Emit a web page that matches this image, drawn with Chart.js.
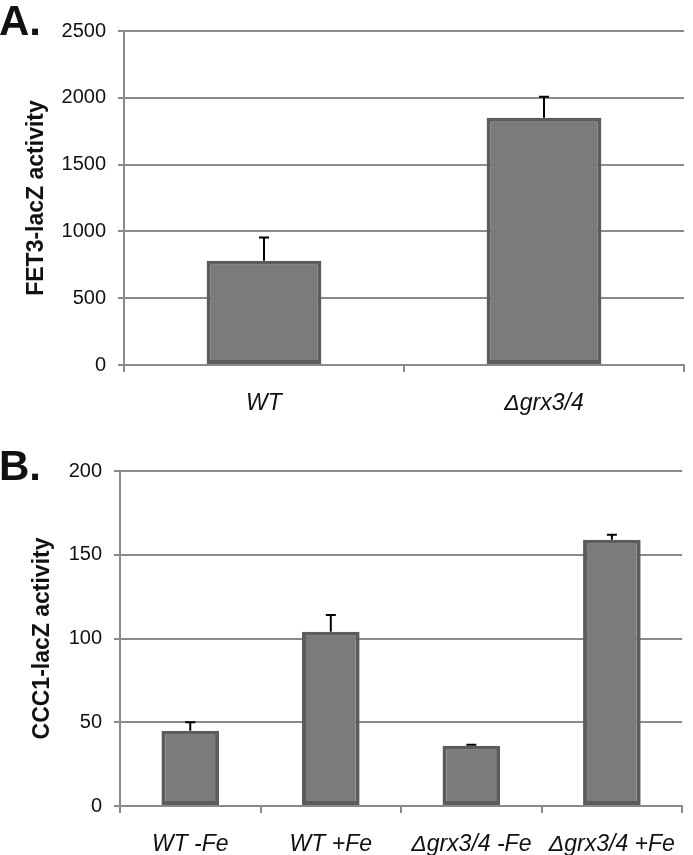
<!DOCTYPE html>
<html>
<head>
<meta charset="utf-8">
<script src="https://cdn.jsdelivr.net/npm/chart.js@4"></script>
<style>
  body { margin: 0; background: #fff; }
  .panel { position: absolute; left: 0; }
  .letter {
    position: absolute; left: -1px;
    font: bold 42px 'Liberation Sans', Arial, sans-serif;
    line-height: 40px; color: #111;
  }
</style>
</head>
<body>
<div class="panel" style="top:0"><canvas id="chartA" width="693" height="430"></canvas></div>
<div class="panel" style="top:430px"><canvas id="chartB" width="693" height="425"></canvas></div>
<div class="letter" style="top:1px">A.</div>
<div class="letter" style="top:446px">B.</div>
<script>
// ---- data: panel A ----
const fetCategories = ['WT', '\u0394grx3/4'];
const fetValues = [780, 1850];
const fetErrors = [175, 157];
const fetTicks = [0, 500, 1000, 1500, 2000, 2500];

// ---- data: panel B ----
const cccCategories = ['WT -Fe', 'WT +Fe', '\u0394grx3/4 -Fe', '\u0394grx3/4 +Fe'];
const cccValues = [45, 104, 36, 159];
const cccErrors = [5, 10, 0.5, 3];
const cccTicks = [0, 50, 100, 150, 200];

const FONT = "'Liberation Sans', Arial, sans-serif";
const GRID = '#8a8a8a';

// draws the upper half of the error bars on top of each bar
const errorBars = {
    id: 'errorBars',
    afterDatasetsDraw(chart) {
        const errs = chart.options.plugins.errorBars.errors;
        const meta = chart.getDatasetMeta(0);
        const yScale = chart.scales.y;
        const ctx = chart.ctx;
        ctx.save();
        ctx.strokeStyle = '#000';
        ctx.lineWidth = 2;
        meta.data.forEach((bar, i) => {
            const v = chart.data.datasets[0].data[i];
            const top = yScale.getPixelForValue(v + errs[i]);
            ctx.beginPath();
            ctx.moveTo(bar.x, bar.y);
            ctx.lineTo(bar.x, top);
            ctx.moveTo(bar.x - 5, top);
            ctx.lineTo(bar.x + 5, top);
            ctx.stroke();
        });
        ctx.restore();
    }
};

function makeChart(id, cats, vals, errs, ticks, title, opts) {
    return new Chart(document.getElementById(id), {
        type: 'bar',
        data: {
            labels: cats,
            datasets: [{
                data: vals,
                backgroundColor: '#7b7b7b',
                borderColor: '#5c5c5c',
                borderWidth: 4,
                borderSkipped: false,
                categoryPercentage: 1,
                barPercentage: 0.41
            }]
        },
        plugins: [errorBars],
        options: {
            responsive: false,
            animation: false,
            layout: { padding: { top: opts.top, right: opts.right, left: 0, bottom: 0 } },
            plugins: {
                legend: { display: false },
                tooltip: { enabled: false },
                errorBars: { errors: errs }
            },
            scales: {
                x: {
                    grid: { offset: true, drawOnChartArea: false, color: GRID, lineWidth: 2, tickLength: 7 },
                    border: { color: GRID, width: 2 },
                    ticks: {
                        color: '#111', padding: 18, maxRotation: 0, autoSkip: false,
                        font: { family: FONT, size: 23, style: 'italic' }
                    },
                    afterFit: s => { s.height = opts.xHeight; }
                },
                y: {
                    min: ticks[0],
                    max: ticks[ticks.length - 1],
                    afterBuildTicks: s => { s.ticks = ticks.map(v => ({ value: v })); },
                    grid: { color: GRID, lineWidth: 2, tickLength: 6 },
                    border: { color: GRID, width: 2 },
                    ticks: {
                        color: '#111', padding: 12,
                        font: { family: FONT, size: 20 },
                        callback: v => String(v)
                    },
                    title: {
                        display: true, text: title, color: '#111',
                        font: { family: FONT, size: 23, weight: 'bold' },
                        padding: { top: opts.titlePad, bottom: 0 }
                    },
                    afterFit: s => { s.width = opts.yWidth; }
                }
            }
        }
    });
}

makeChart('chartA', fetCategories, fetValues, fetErrors, fetTicks, 'FET3-lacZ activity',
    { top: 31, right: 9, xHeight: 65, yWidth: 124, titlePad: 23 });
makeChart('chartB', cccCategories, cccValues, cccErrors, cccTicks, 'CCC1-lacZ activity',
    { top: 41, right: 1, xHeight: 49, yWidth: 120, titlePad: 29 });
</script>
</body>
</html>
